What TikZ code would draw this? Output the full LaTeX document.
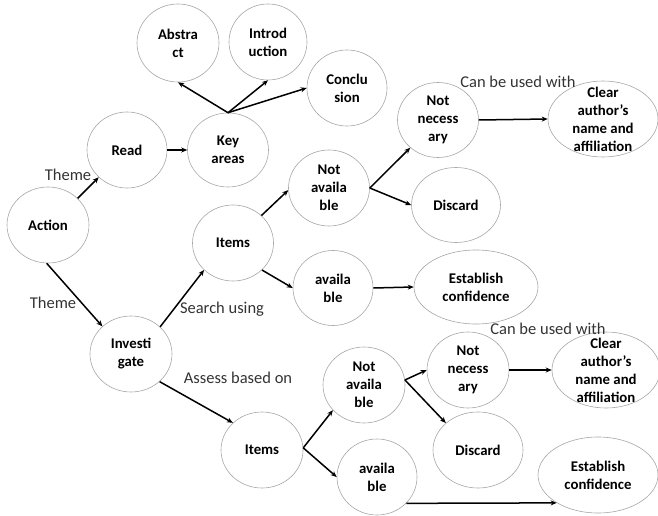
\documentclass[tikz,border=0pt]{standalone}
\usepackage{fontspec}
\setmainfont{Carlito}
\usetikzlibrary{shapes.geometric,arrows.meta}
\tikzset{
  ell/.style={ellipse, draw=gray!70, line width=0.6pt, inner sep=0pt},
  nt/.style={font=\bfseries\fontsize{14.8}{18}\selectfont, align=center, inner sep=0pt, text=black},
  lbl/.style={font=\fontsize{16.5}{19}\selectfont, text=black!80, inner sep=0pt},
  arr/.style={-{Stealth[length=6pt,width=5pt]}, line width=1.5pt, black}
}
\newcommand{\ellnode}[6]{% name, x, y, w, h, text
  \node[ell, minimum width=#4pt, minimum height=#5pt, label={[nt]center:{#6}}] (#1) at (#2,-#3) {};}
\begin{document}
\begin{tikzpicture}[x=1pt,y=1pt]
\useasboundingbox (0,0) rectangle (658,-516);
% nodes
\ellnode{act}{48}{225}{82}{76}{Action}
\ellnode{read}{127}{150}{80}{76}{Read}
\ellnode{key}{228}{150}{81}{74}{Key\\areas}
\ellnode{abs}{178}{43}{82}{78}{Abstra\\ct}
\ellnode{intro}{268}{42}{78}{76}{Introd\\uction}
\ellnode{concl}{347}{88}{80}{76}{Conclu\\sion}
\ellnode{itemsA}{233}{243}{81}{76}{Items}
\ellnode{navA}{329}{188}{81}{76}{Not\\availa\\ble}
\ellnode{nnA}{438}{120}{81}{75}{Not\\necess\\ary}
\ellnode{discA}{456}{205}{89}{75}{Discard}
\ellnode{clearA}{603}{119}{110}{76}{Clear\\author’s\\name and\\affiliation}
\ellnode{avA}{333}{288}{80}{75}{availa\\ble}
\ellnode{estA}{476}{287}{124}{74}{Establish\\confidence}
\ellnode{inv}{131}{354}{82}{76}{Investi\\gate}
\ellnode{itemsB}{262}{450}{82}{76}{Items}
\ellnode{navB}{364}{385}{82}{76}{Not\\availa\\ble}
\ellnode{nnB}{468}{370}{82}{76}{Not\\necess\\ary}
\ellnode{discB}{478}{450}{90}{76}{Discard}
\ellnode{clearB}{606}{370}{108}{76}{Clear\\author’s\\name and\\affiliation}
\ellnode{avB}{377}{477}{80}{76}{availa\\ble}
\ellnode{estB}{598}{475}{120}{76}{Establish\\confidence}
% edge labels
\node[lbl] (th1) at (68,-175) {Theme};
\node[lbl] (th2) at (53,-303) {Theme};
\node[lbl] (su) at (222,-309) {Search using};
\node[lbl] (ab) at (238,-378) {Assess based on};
\node[lbl] (cu1) at (518,-82) {Can be used with};
\node[lbl] (cu2) at (548,-329) {Can be used with};
% connectors
\draw[arr] (act.42) -- (read.224);
\draw[arr] (act.268) -- (inv.136);
\draw[arr] (read.0) -- (key.180);
\draw[arr] (key.90) -- (abs.270);
\draw[arr] (key.90) -- (intro.270);
\draw[arr] (key.90) -- (concl.180);
\draw[arr] (inv.43) -- (itemsA.223);
\draw[arr] (inv.316) -- (itemsB.137);
\draw[arr] (itemsA.44) -- (navA.183);
\draw[arr] (itemsA.317) -- (avA.180);
\draw[arr] (navA.0) -- (nnA.225);
\draw[arr] (navA.0) -- (discA.180);
\draw[arr] (nnA.0) -- (clearA.180);
\draw[arr] (avA.0) -- (estA.180);
\draw[arr] (itemsB.3) -- (navB.219);
\draw[arr] (itemsB.3) -- (avB.180);
\draw[arr] (navB.7) -- (nnB.180);
\draw[arr] (navB.7) -- (discB.140);
\draw[arr] (nnB.0) -- (clearB.180);
\draw[arr] (avB.318) -- (estB.214);
\end{tikzpicture}
\end{document}
